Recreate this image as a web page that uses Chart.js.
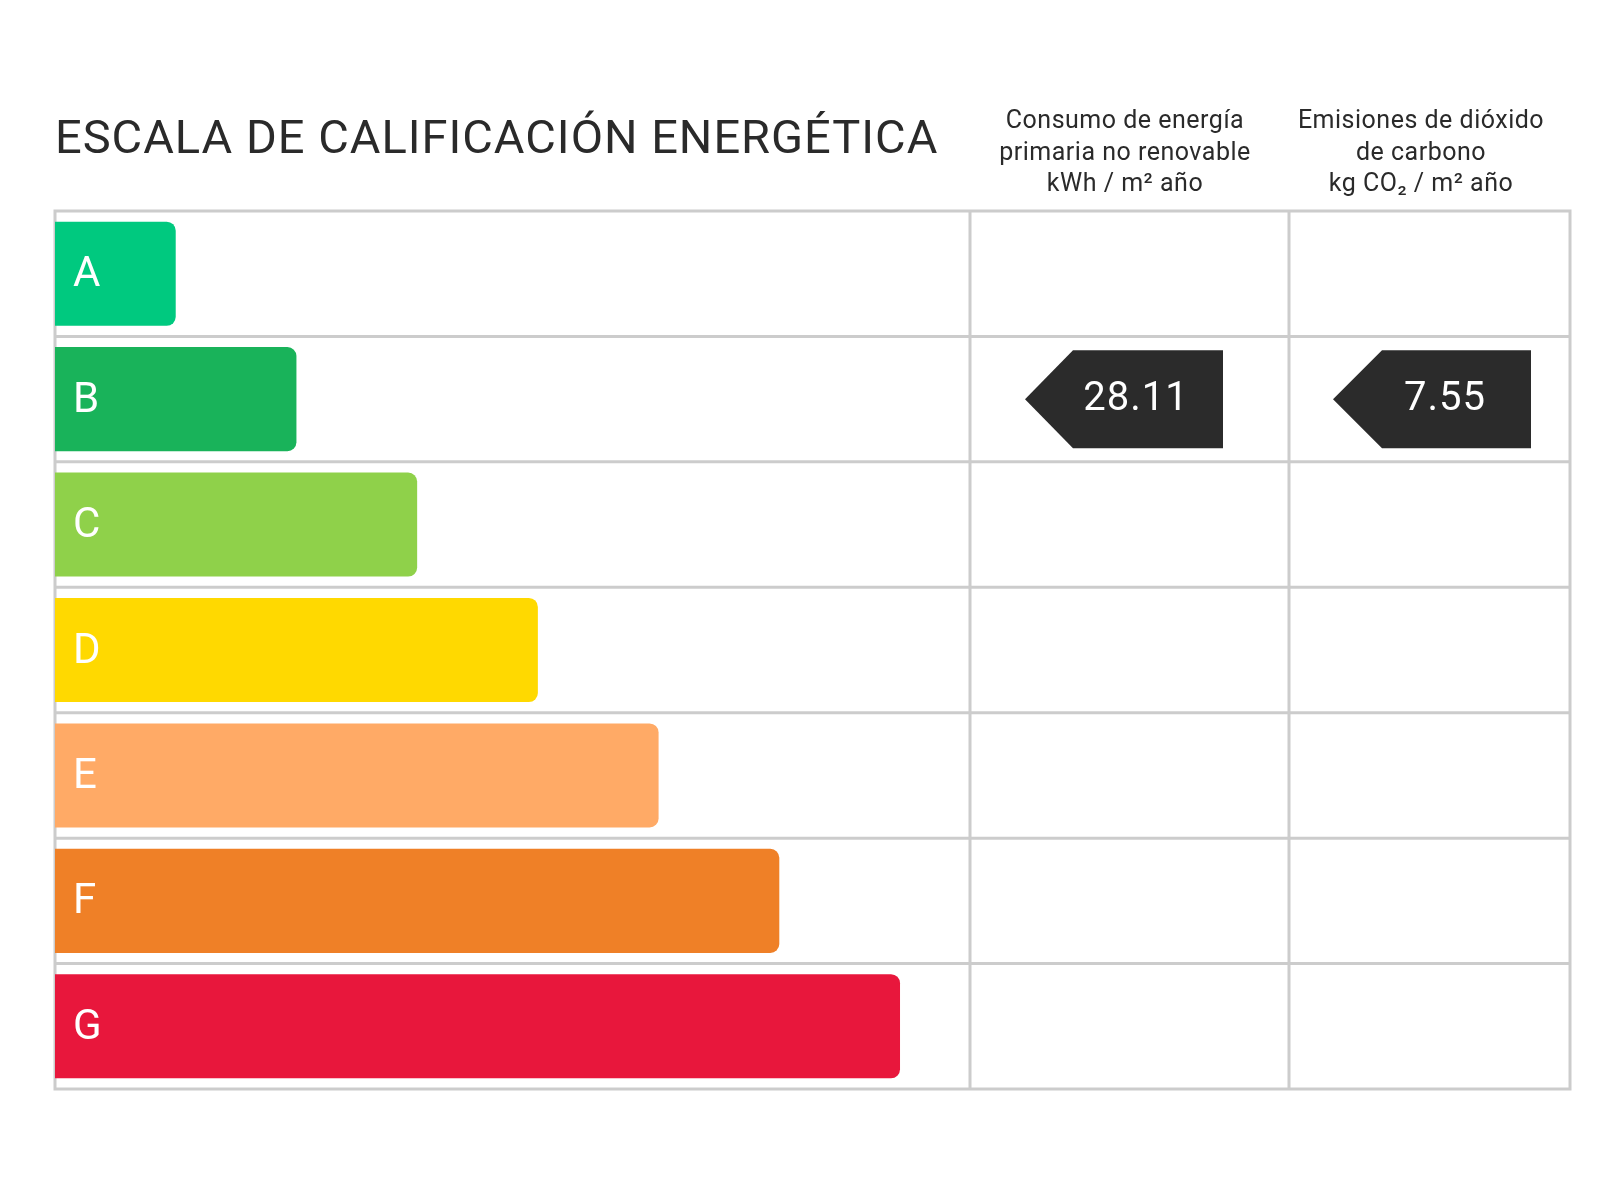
<!DOCTYPE html>
<html>
<head>
<meta charset="utf-8">
<script src="https://cdn.jsdelivr.net/npm/chart.js@4"></script>
<style>
  body { margin: 0; background: #fff; }
  #c { display: block; }
</style>
</head>
<body>
<canvas id="c" width="1600" height="1200" style="width:1600px;height:1200px"></canvas>
<script>
const ratings = ["A", "B", "C", "D", "E", "F", "G"];
const barLengths = [1, 2, 3, 4, 5, 6, 7];
const barColors = ["#00c97f", "#19b35a", "#8fd14a", "#ffd900", "#ffaa66", "#ef8027", "#e8173c"];
const title = "ESCALA DE CALIFICACIÓN ENERGÉTICA";
const headerEnergy = ["Consumo de energía", "primaria no renovable", "kWh / m² año"];
const headerCo2 = ["Emisiones de dióxido", "de carbono", "kg CO₂ / m² año"];
const currentRating = "B";
const energyValue = "28.11";
const co2Value = "7.55";

const FONT = "Roboto, 'DejaVu Sans', sans-serif";
const GRID = "#cccccc";

const overlay = {
  id: "overlay",
  beforeDatasetsDraw(chart) {
    const { ctx, chartArea: a } = chart;
    ctx.save();
    ctx.strokeStyle = GRID;
    ctx.lineWidth = 3;
    ctx.strokeRect(a.left, a.top, a.right - a.left, a.bottom - a.top);
    const step = (a.bottom - a.top) / ratings.length;
    for (let i = 1; i < ratings.length; i++) {
      const yy = a.top + i * step;
      ctx.beginPath(); ctx.moveTo(a.left, yy); ctx.lineTo(a.right, yy); ctx.stroke();
    }
    [970, 1289].forEach(x => {
      ctx.beginPath(); ctx.moveTo(x, a.top); ctx.lineTo(x, a.bottom); ctx.stroke();
    });
    ctx.restore();
  },
  afterDatasetsDraw(chart) {
    const { ctx, scales: { y } } = chart;
    ctx.save();
    ctx.fillStyle = "#fff";
    ctx.font = "42px " + FONT;
    ctx.textBaseline = "middle";
    ratings.forEach((r, i) => ctx.fillText(r, 73, y.getPixelForValue(i) + 2));
    const cy = y.getPixelForValue(ratings.indexOf(currentRating));
    const drawArrow = (x0, x1, x2, txt, tx) => {
      ctx.fillStyle = "#2b2b2b";
      ctx.beginPath();
      ctx.moveTo(x0, cy);
      ctx.lineTo(x1, cy - 49);
      ctx.lineTo(x2, cy - 49);
      ctx.lineTo(x2, cy + 49);
      ctx.lineTo(x1, cy + 49);
      ctx.closePath();
      ctx.fill();
      ctx.fillStyle = "#fff";
      ctx.font = "40px " + FONT;
      ctx.letterSpacing = "1px";
      ctx.textAlign = "center";
      ctx.fillText(txt, tx, cy + 1);
      ctx.letterSpacing = "0px";
    };
    drawArrow(1025, 1073, 1223, energyValue, 1136);
    drawArrow(1333, 1382, 1531, co2Value, 1445);
    ctx.restore();
  },
  afterDraw(chart) {
    const { ctx } = chart;
    ctx.save();
    ctx.fillStyle = "#2a2a2a";
    ctx.font = "47px " + FONT;
    ctx.letterSpacing = "1px";
    ctx.textBaseline = "alphabetic";
    ctx.fillText(title, 55, 153);
    ctx.font = "25px " + FONT;
    ctx.letterSpacing = "0.5px";
    ctx.textAlign = "center";
    ctx.textBaseline = "middle";
    headerEnergy.forEach((t, i) => ctx.fillText(t, 1125, 122 + i * 31.6));
    headerCo2.forEach((t, i) => ctx.fillText(t, 1421, 122 + i * 31.6));
    ctx.restore();
  }
};

new Chart(document.getElementById("c"), {
  type: "bar",
  data: {
    labels: ratings,
    datasets: [{
      data: barLengths,
      backgroundColor: barColors,
      borderRadius: { topLeft: 0, bottomLeft: 0, topRight: 9, bottomRight: 9 },
      borderSkipped: false,
      barPercentage: 0.83,
      categoryPercentage: 1
    }]
  },
  options: {
    indexAxis: "y",
    responsive: false,
    devicePixelRatio: 1,
    animation: false,
    layout: { padding: { left: 55, right: 30, top: 211, bottom: 111 } },
    plugins: { legend: { display: false }, tooltip: { enabled: false } },
    scales: {
      x: { display: false, min: 0, max: 12.55 },
      y: { display: false }
    }
  },
  plugins: [overlay]
});
</script>
</body>
</html>
